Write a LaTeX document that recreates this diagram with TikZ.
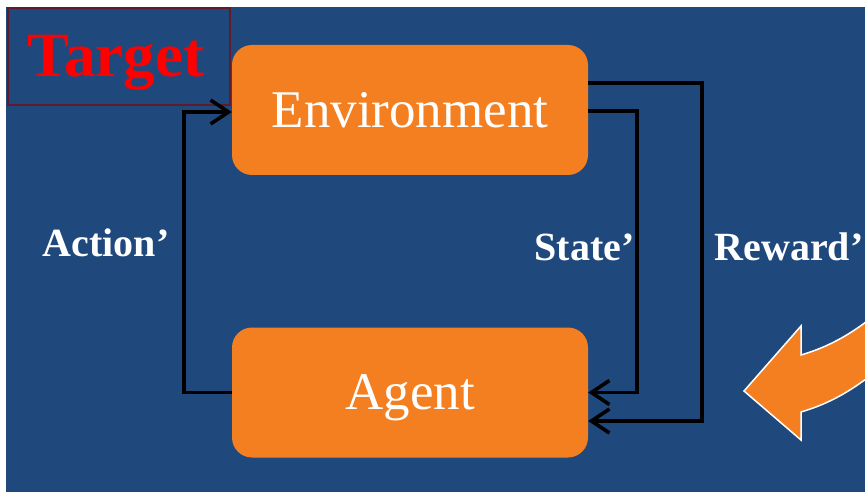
\documentclass[tikz,border=0pt]{standalone}
\usepackage{fontspec}
\setmainfont{Liberation Serif}
\usetikzlibrary{arrows.meta}
\definecolor{bg}{RGB}{31,73,125}
\definecolor{org}{RGB}{244,127,32}
\definecolor{tgtborder}{RGB}{96,26,42}
\begin{document}
\begin{tikzpicture}[x=1pt,y=-1pt,
  box/.style={fill=org, rounded corners=20pt, minimum width=356pt, minimum height=130pt,
    text=white, font=\fontsize{53}{60}\selectfont, text depth=0pt, inner sep=0pt},
  lbl/.style={text=white, font=\fontsize{40}{46}\selectfont\bfseries, anchor=base, inner sep=0pt},
  conn/.style={draw=black, line width=3.6pt,
    -{Straight Barb[length=18pt,width=24pt,line width=3.6pt]}},
]
\useasboundingbox (0,0) rectangle (865,492);
\fill[white] (0,0) rectangle (865,492);
\fill[bg] (6,7) rectangle (865,492);

% Target box
\node[draw=tgtborder, line width=1.8pt, minimum width=222pt, minimum height=97pt, inner sep=0pt] (tbox) at (119,56.5) {};
\node[text=red, font=\fontsize{63}{70}\selectfont\bfseries, anchor=base, inner sep=0pt] (tgt) at (116,77) {Target};

% Boxes
\node[box] (env) at (410,110) {Environment};
\node[box, font=\fontsize{53}{60}\selectfont] (ag) at (410,392.5) {Agent};

% Connectors
\draw[conn] (ag.west) -- ++(-48,0) |- ([yshift=-2pt]env.west);
\draw[conn] ([yshift=-1pt]env.east) -- ++(49,0) |- (ag.east);
\draw[conn] ([yshift=27pt]env.east) -- ++(114,0) |- ([yshift=-28.5pt]ag.east);

% Labels
\node[lbl] (act) at (106,256) {Action'};
\node[lbl] (sta) at (584.5,260) {State'};
\node[lbl] (rew) at (789,260) {Reward'};

% Curved orange arrow
\begin{scope}
\clip (0,0) rectangle (865,492);
\filldraw[fill=org, draw=white, line width=1.5pt, line join=miter]
  (744,391) -- (801,326) -- (801,355)
  .. controls (828,347) and (850,335) .. (875,315)
  -- (875,372)
  .. controls (850,392) and (828,404) .. (801,412)
  -- (801,440) -- cycle;
\end{scope}
\end{tikzpicture}
\end{document}
